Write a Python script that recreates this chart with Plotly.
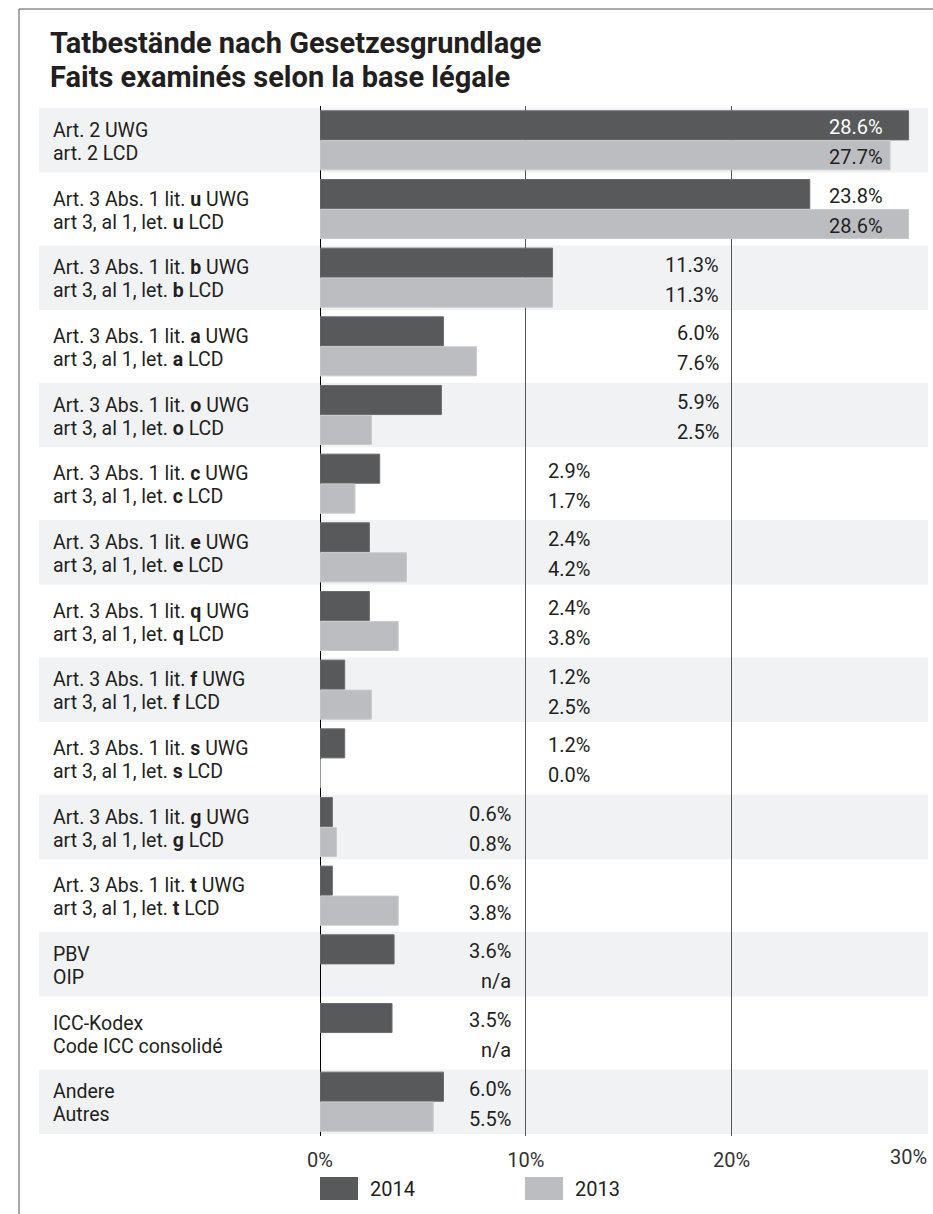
import plotly.graph_objects as go

# ---------------- data ----------------
title_de = "Tatbestände nach Gesetzesgrundlage"
title_fr = "Faits examinés selon la base légale"

labels_de = [
    "Art. 2 UWG",
    "Art. 3 Abs. 1 lit. <b>u</b> UWG",
    "Art. 3 Abs. 1 lit. <b>b</b> UWG",
    "Art. 3 Abs. 1 lit. <b>a</b> UWG",
    "Art. 3 Abs. 1 lit. <b>o</b> UWG",
    "Art. 3 Abs. 1 lit. <b>c</b> UWG",
    "Art. 3 Abs. 1 lit. <b>e</b> UWG",
    "Art. 3 Abs. 1 lit. <b>q</b> UWG",
    "Art. 3 Abs. 1 lit. <b>f</b> UWG",
    "Art. 3 Abs. 1 lit. <b>s</b> UWG",
    "Art. 3 Abs. 1 lit. <b>g</b> UWG",
    "Art. 3 Abs. 1 lit. <b>t</b> UWG",
    "PBV",
    "ICC-Kodex",
    "Andere",
]
labels_fr = [
    "art. 2 LCD",
    "art 3, al 1, let. <b>u</b> LCD",
    "art 3, al 1, let. <b>b</b> LCD",
    "art 3, al 1, let. <b>a</b> LCD",
    "art 3, al 1, let. <b>o</b> LCD",
    "art 3, al 1, let. <b>c</b> LCD",
    "art 3, al 1, let. <b>e</b> LCD",
    "art 3, al 1, let. <b>q</b> LCD",
    "art 3, al 1, let. <b>f</b> LCD",
    "art 3, al 1, let. <b>s</b> LCD",
    "art 3, al 1, let. <b>g</b> LCD",
    "art 3, al 1, let. <b>t</b> LCD",
    "OIP",
    "Code ICC consolidé",
    "Autres",
]
series_names = ["2014", "2013"]
values_2014 = [28.6, 23.8, 11.3, 6.0, 5.9, 2.9, 2.4, 2.4, 1.2, 1.2, 0.6, 0.6, 3.6, 3.5, 6.0]
values_2013 = [27.7, 28.6, 11.3, 7.6, 2.5, 1.7, 4.2, 3.8, 2.5, 0.0, 0.8, 3.8, None, None, 5.5]
tick_values = [0, 10, 20, 30]
tick_labels = ["0%", "10%", "20%", "30%"]

# ---------------- style / layout ----------------
W, H = 933, 1214
M_L, M_R, M_T, M_B = 320, 0, 106, 78
PX_PER_UNIT = 20.58
X_MAX = (W - M_L - M_R) / PX_PER_UNIT
PLOT_W = W - M_L - M_R
PLOT_H = H - M_T - M_B

# right edge (in axis units) of the value labels for each row
label_anchor = [27.45, 27.45, 19.5, 19.5, 19.5, 13.2, 13.2, 13.2, 13.2, 13.2, 9.38, 9.38, 9.38, 9.38, 9.38]

DARK = "#58595b"
LIGHT = "#bcbdc0"
SHADE = "#f1f2f4"
TXT = "#231f20"
FONT = "Roboto"
FS = 19.5
FS_VAL = 20

def xp(px):
    return (px - M_L) / PLOT_W

def yp(py):
    return (H - M_B - py) / PLOT_H

cats = [d.replace("<b>", "").replace("</b>", "") for d in labels_de]

fig = go.Figure()
fig.add_bar(y=cats, x=values_2014, orientation="h", name=series_names[0],
            marker=dict(color=DARK, line=dict(color="#6b6c6e", width=1)))
fig.add_bar(y=cats, x=values_2013, orientation="h", name=series_names[1],
            marker=dict(color=LIGHT, line=dict(color="#c9cacc", width=1)))

shapes = []
annotations = []

# alternating row shading
for i in range(0, len(cats), 2):
    shapes.append(dict(type="rect", xref="paper", yref="y", x0=xp(39), x1=xp(928),
                       y0=i - 0.47, y1=i + 0.47, fillcolor=SHADE, line=dict(width=0),
                       layer="below"))

# category labels (two lines each)
for i, c in enumerate(cats):
    for txt, shift in ((labels_de[i], 10), (labels_fr[i], -13)):
        annotations.append(dict(xref="paper", yref="y", x=xp(51), y=c, xanchor="left",
                                yanchor="middle", align="left", showarrow=False, yshift=shift,
                                text=txt, font=dict(family=FONT, size=FS, color=TXT)))

# value labels
for i, c in enumerate(cats):
    v14 = values_2014[i]
    v13 = values_2013[i]
    t14 = "n/a" if v14 is None else f"{v14:.1f}%"
    t13 = "n/a" if v13 is None else f"{v13:.1f}%"
    col14 = "#ffffff" if (v14 is not None and v14 >= label_anchor[i]) else TXT
    annotations.append(dict(xref="x", yref="y", x=label_anchor[i], y=c, xanchor="right",
                            yanchor="middle", showarrow=False, yshift=13, text=t14,
                            font=dict(family=FONT, size=FS_VAL, color=col14)))
    annotations.append(dict(xref="x", yref="y", x=label_anchor[i], y=c, xanchor="right",
                            yanchor="middle", showarrow=False, yshift=-17, text=t13,
                            font=dict(family=FONT, size=FS_VAL, color=TXT)))

# last tick label (beyond the visible range edge)
annotations.append(dict(xref="paper", yref="paper", x=xp(929), y=yp(1157), xanchor="right",
                        yanchor="middle", showarrow=False, text=tick_labels[-1],
                        font=dict(family=FONT, size=FS_VAL, color="#333333")))

# legend
leg_x = [320, 525]
leg_cols = [DARK, LIGHT]
for lx, col, name in zip(leg_x, leg_cols, series_names):
    shapes.append(dict(type="rect", xref="paper", yref="paper", x0=xp(lx), x1=xp(lx + 38),
                       y0=yp(1200), y1=yp(1177), fillcolor=col, line=dict(width=0)))
    annotations.append(dict(xref="paper", yref="paper", x=xp(lx + 48), y=yp(1189),
                            xanchor="left", yanchor="middle", showarrow=False, text=name,
                            font=dict(family=FONT, size=FS_VAL, color=TXT)))

# frame lines
shapes.append(dict(type="line", xref="paper", yref="paper", x0=xp(19), x1=xp(W + 5),
                   y0=yp(9), y1=yp(9), line=dict(color="#555555", width=1)))
shapes.append(dict(type="line", xref="paper", yref="paper", x0=xp(19), x1=xp(19),
                   y0=yp(9), y1=yp(H + 5), line=dict(color="#555555", width=1)))

# title lines
for txt, py in ((title_de, 43), (title_fr, 77)):
    annotations.append(dict(xref="paper", yref="paper", x=xp(48), y=yp(py), xanchor="left",
                            yanchor="middle", showarrow=False, text="<b>" + txt + "</b>",
                            font=dict(family=FONT, size=29, color=TXT)))

fig.update_layout(
    width=W, height=H, autosize=False,
    margin=dict(l=M_L, r=M_R, t=M_T, b=M_B, pad=0),
    paper_bgcolor="white", plot_bgcolor="rgba(0,0,0,0)",
    barmode="group", bargap=0.127, bargroupgap=0.03,
    showlegend=False,
    xaxis=dict(range=[0, X_MAX], tickvals=tick_values[:-1], ticktext=tick_labels[:-1],
               showgrid=True, gridcolor="#555555", gridwidth=1,
               zeroline=True, zerolinecolor="#000000", zerolinewidth=1,
               ticks="outside", ticklen=6, tickcolor="rgba(0,0,0,0)",
               tickfont=dict(family=FONT, size=FS_VAL, color="#333333"),
               showline=False, fixedrange=True),
    yaxis=dict(type="category", categoryorder="array", categoryarray=cats,
               range=[len(cats) - 0.5, -0.5], showticklabels=False,
               showgrid=False, zeroline=False, showline=False, fixedrange=True),
    shapes=shapes, annotations=annotations,
)

fig.write_html("out.html", config={"displayModeBar": False},
               post_script="document.body.style.margin='0';document.body.style.overflow='hidden';")
